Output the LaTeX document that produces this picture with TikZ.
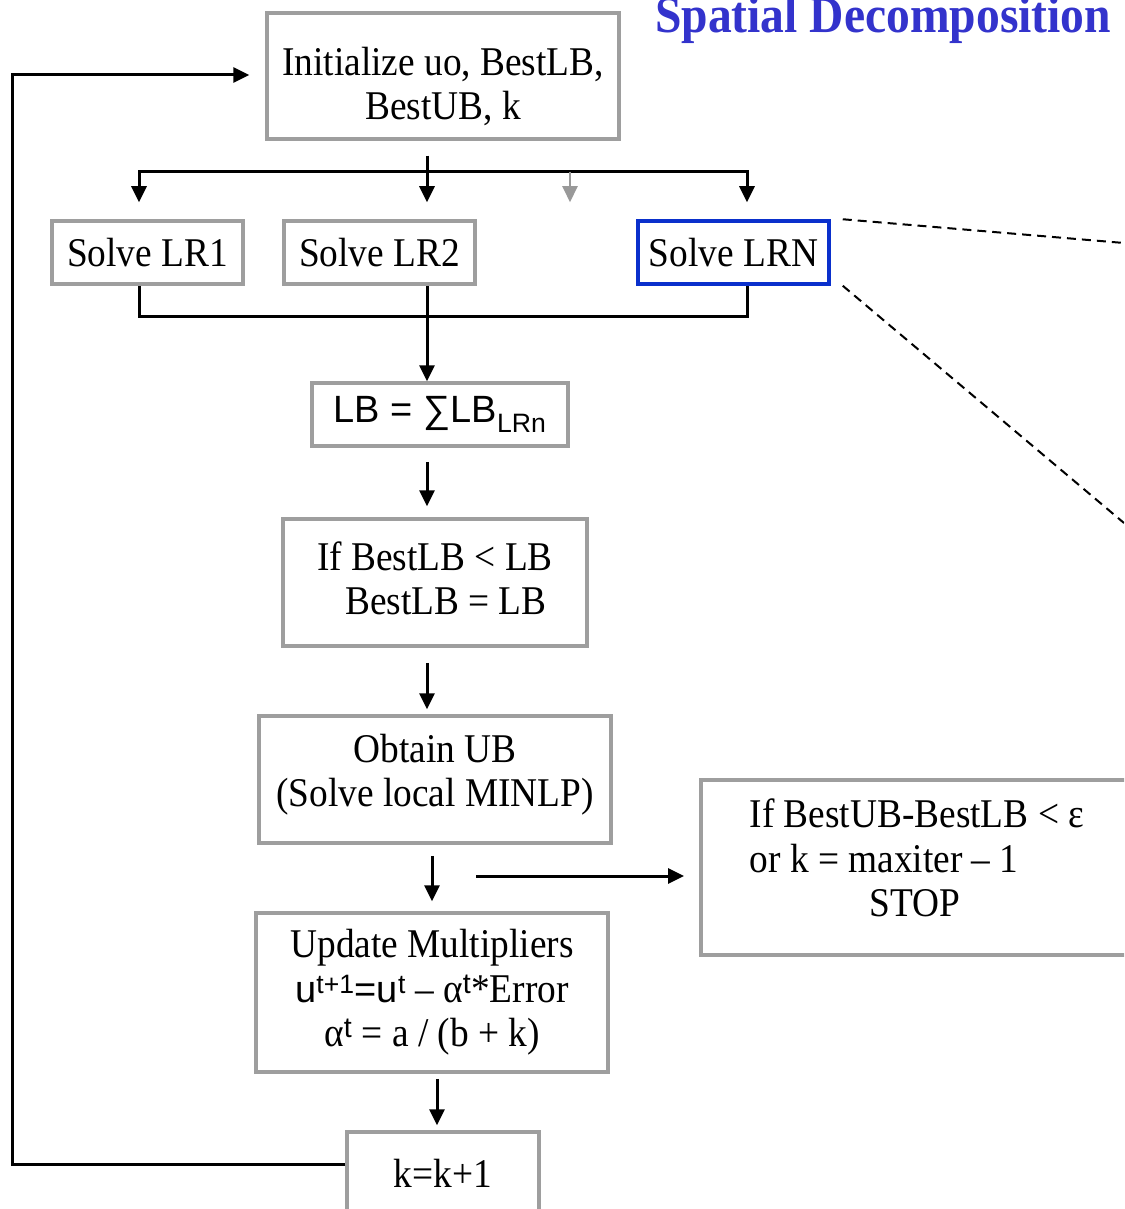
\documentclass[tikz,border=0pt]{standalone}
\usepackage{fontspec}
\setmainfont{Liberation Serif}[FakeStretch=0.915]
\setsansfont{Liberation Sans}
\usepackage{tikz}
\usetikzlibrary{arrows.meta}
\definecolor{BoxGray}{HTML}{9E9E9E}
\definecolor{PartBlue}{HTML}{0A30CC}
\definecolor{TitleBlue}{HTML}{3333CC}
\definecolor{TipGray}{HTML}{999999}
\tikzset{
  stepbox/.style={draw=BoxGray, line width=3.5pt, fill=white, inner sep=0pt, align=center,
    font=\fontsize{40.8}{44.5}\selectfont},
  arr/.style={line width=3pt, -{Triangle[length=16pt, width=15pt]}},
  bus/.style={line width=3pt}
}

\begin{document}
\begin{tikzpicture}[x=1pt, y=-1pt]
    \useasboundingbox (0,0) rectangle (1124,1209);
    \clip (0,0) rectangle (1124,1209);
    \node[anchor=base west, inner sep=0pt, text=TitleBlue, font=\fontsize{52}{60}\selectfont\bfseries] (title) at (655,33) {Spatial Decomposition};
    \node[stepbox, minimum width=352pt, minimum height=126pt, text height=94pt] (init) at (443,76) {Initialize uo, BestLB,\\BestUB, k};
    \node[stepbox, minimum width=191pt, minimum height=63pt] (lr1) at (147.5,252.5) {Solve LR1};
    \node[stepbox, minimum width=191pt, minimum height=63pt] (lr2) at (379.5,252.5) {Solve LR2};
    \node[stepbox, draw=PartBlue, minimum width=191pt, minimum height=63pt] (lrn) at (733.5,252.5) {Solve LRN};
    \node[stepbox, minimum width=256pt, minimum height=63pt, font=\fontsize{38}{44}\sffamily] (lb) at (440,414.5) {LB = ∑LB\textsubscript{LRn}};
    \node[stepbox, align=left, minimum width=304pt, minimum height=127pt, text depth=9pt] (ifb) at (435,582.5) {If BestLB < LB\\\hspace*{28pt}BestLB = LB};
    \node[stepbox, minimum width=352pt, minimum height=127pt, text depth=18pt] (obt) at (435,779.5) {Obtain UB\\(Solve local MINLP)};
    \node[stepbox, anchor=west, align=left, inner xsep=49pt, minimum height=175pt, text depth=19pt] (stop) at (699,867.5) {If BestUB-BestLB < ε\hspace*{70pt}\\or k = maxiter – 1\\\hspace*{120pt}STOP};
    \node[stepbox, minimum width=352pt, minimum height=159pt] (upd) at (432,992.5) {Update Multipliers\\{\sffamily\fontsize{38}{44}\selectfont u\textsuperscript{t+1}=u\textsuperscript{t}} – α\textsuperscript{\sffamily t}*Error\\α\textsuperscript{\sffamily t} = a / (b + k)};
    \node[stepbox, minimum width=192pt, minimum height=82pt] (kk) at (443,1173) {k=k+1};

    % fan out to the subproblems
    \coordinate (fork) at (427,172);
    \coordinate (forkL) at (139,172);
    \coordinate (forkR) at (747,172);
    \coordinate (forkG) at (570,172);
    \draw[arr, shorten <=15pt, shorten >=17pt] (init.south -| fork) -- (lr2.north -| fork);
    \draw[arr, shorten >=17pt] (fork) -| (lr1.north -| forkL);
    \draw[arr, shorten >=17pt] (fork) -| (lrn.north -| forkR);
    \draw[arr, line width=2pt, draw=TipGray, fill=TipGray, shorten >=17pt] (forkG) -- (lr1.north -| forkG);

    % gather the bounds
    \coordinate (joinR) at (747,316);
    \draw[bus] (lr1.south -| forkL) |- (joinR) -- (lrn.south -| joinR);
    \draw[arr] (lr2.south -| fork) -- (lb.north -| fork);
    \draw[arr, shorten <=14pt, shorten >=11pt] (lb.south -| fork) -- (ifb.north -| fork);
    \draw[arr, shorten <=15pt, shorten >=5pt] (ifb.south -| fork) -- (obt.north -| fork);
    \draw[arr, shorten <=11pt, shorten >=10pt] (obt.south -| upd) -- (upd.north);
    \draw[arr, shorten <=5pt, shorten >=5pt] ([xshift=5pt]upd.south) -- ([xshift=5pt]upd.south |- kk.north);

    \coordinate (sideA) at (476,876);
    \draw[arr, shorten >=15pt] (sideA) -- (sideA -| stop.west);

    % back to the start
    \coordinate (loopB) at (12,1164);
    \coordinate (loopT) at (12,75);
    \draw[arr, shorten >=16pt] (kk.west |- loopB) -- (loopB) -- (loopT) -- (loopT -| init.west);

    % zoom lines
    \coordinate (zoomT) at (1124,243);
    \coordinate (zoomB) at (1124,523);
    \draw[line width=2pt, dash pattern=on 9pt off 6pt] (lrn.north east) ++(12,0) -- (zoomT);
    \draw[line width=2pt, dash pattern=on 9pt off 6pt] (lrn.south east) ++(12,0) -- (zoomB);
\end{tikzpicture}
\end{document}
